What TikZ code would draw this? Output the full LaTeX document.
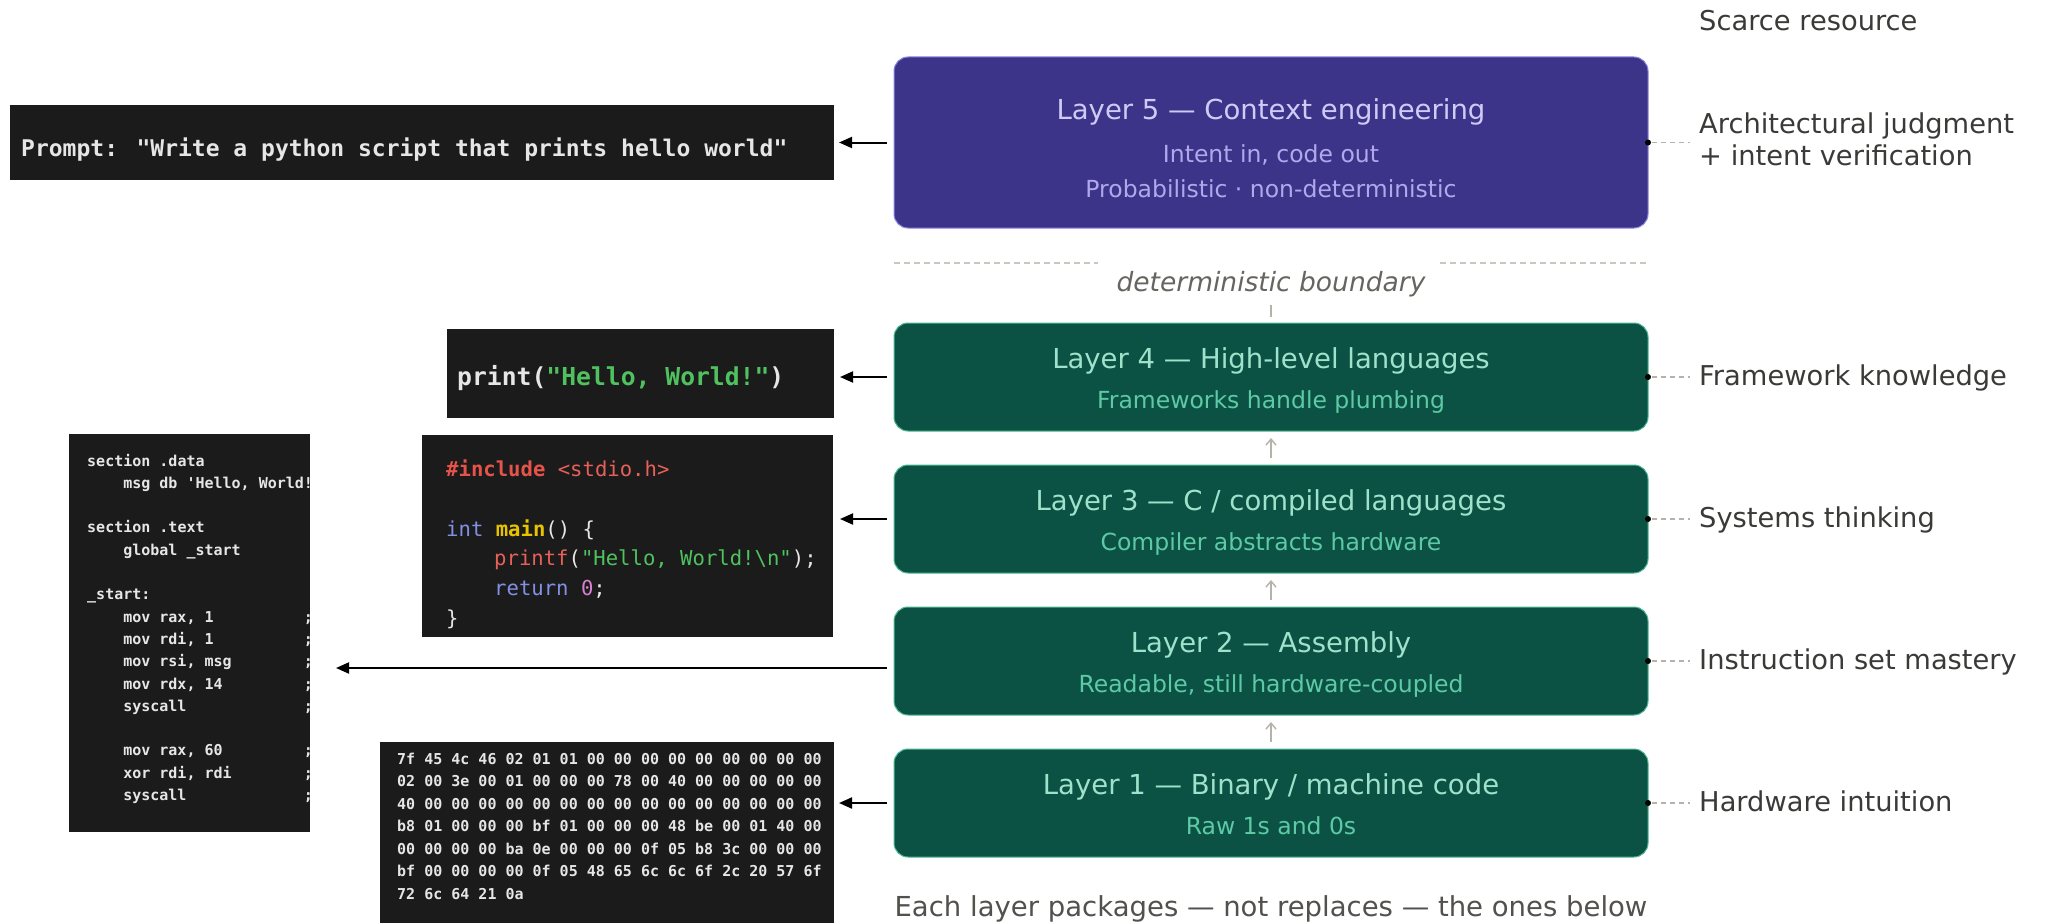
\documentclass[tikz,border=0pt]{standalone}
\usepackage{fontspec}
\setmainfont{DejaVu Sans}
\newfontfamily\codefont{DejaVu Sans Mono}
\usetikzlibrary{arrows.meta}
\definecolor{lgreen}{HTML}{0B5244}
\definecolor{lgreenedge}{HTML}{4FB894}
\definecolor{lpurple}{HTML}{3C3489}
\definecolor{lpurpleedge}{HTML}{8F88E0}
\definecolor{gtitle}{HTML}{9FE1CB}
\definecolor{gsub}{HTML}{5DCAA5}
\definecolor{ptitle}{HTML}{CECBF6}
\definecolor{psub}{HTML}{AFA9EC}
\definecolor{labelcol}{HTML}{3A3A38}
\definecolor{boundcol}{HTML}{66655F}
\definecolor{bottomcol}{HTML}{52514D}
\definecolor{conngray}{HTML}{B4B2A9}
\definecolor{arrowgray}{HTML}{B4B2A9}
\definecolor{dashgray}{HTML}{C9C7C0}
\definecolor{codebg}{HTML}{1B1B1B}
\definecolor{codewhite}{HTML}{E6E6E6}
\definecolor{cgreen}{HTML}{4FC25F}
\definecolor{cred}{HTML}{E5534B}
\definecolor{ccoral}{HTML}{E8605A}
\definecolor{cblue}{HTML}{8290E6}
\definecolor{cyellow}{HTML}{E8C300}
\definecolor{cpink}{HTML}{D77FD0}
\begin{document}
\begin{tikzpicture}[x=1pt,y=-1pt,
  layerbox/.style={rounded corners=14pt, inner sep=0pt, outer sep=0pt, minimum width=754pt, line width=1pt},
  greenbox/.style={layerbox, fill=lgreen, draw=lgreenedge, minimum height=108pt},
  purplebox/.style={layerbox, fill=lpurple, draw=lpurpleedge, minimum height=171pt},
  codebox/.style={fill=codebg, inner sep=0pt, outer sep=0pt, anchor=north west},
  titletxt/.style={anchor=base, inner sep=0pt, font=\fontsize{27.5}{33}\selectfont},
  subtxt/.style={anchor=base, inner sep=0pt, font=\fontsize{23.5}{28}\selectfont},
  labeltxt/.style={anchor=base west, inner sep=0pt, text=labelcol, font=\fontsize{27.3}{33}\selectfont},
  smallcode/.style={anchor=base west, inner sep=0pt, text=codewhite, font=\codefont\bfseries\fontsize{15}{18}\selectfont},
  ccode/.style={anchor=base west, inner sep=0pt, text=codewhite, font=\codefont\fontsize{20.6}{24}\selectfont},
  larrow/.style={-{Triangle[length=13pt,width=11pt]}, line width=2pt, draw=black},
  uparrow/.style={-{Straight Barb[length=6pt,width=10pt]}, line width=1.4pt, draw=arrowgray},
  conn/.style={dash pattern=on 5pt off 4pt, line width=1.3pt, draw=conngray},
  bound/.style={dash pattern=on 6pt off 4pt, line width=1.5pt, draw=dashgray}
]
\useasboundingbox (0,0) rectangle (2049,923);
\fill[white] (0,0) rectangle (2049,923);

% ---- layer boxes
\node[purplebox] (L5) at (1271,142.5) {};
\node[greenbox] (L4) at (1271,377) {};
\node[greenbox] (L3) at (1271,519) {};
\node[greenbox] (L2) at (1271,661) {};
\node[greenbox] (L1) at (1271,803) {};

\node[titletxt, text=ptitle] (L5t) at (1271,120) {Layer 5 — Context engineering};
\node[subtxt, text=psub] (L5s1) at (1271,162) {Intent in, code out};
\node[subtxt, text=psub] (L5s2) at (1271,197) {Probabilistic · non-deterministic};

\node[titletxt, text=gtitle] (L4t) at (1271,368) {Layer 4 — High-level languages};
\node[subtxt, text=gsub] (L4s) at (1271,408) {Frameworks handle plumbing};
\node[titletxt, text=gtitle] (L3t) at (1271,510) {Layer 3 — C / compiled languages};
\node[subtxt, text=gsub] (L3s) at (1271,550) {Compiler abstracts hardware};
\node[titletxt, text=gtitle] (L2t) at (1271,652) {Layer 2 — Assembly};
\node[subtxt, text=gsub] (L2s) at (1271,692) {Readable, still hardware-coupled};
\node[titletxt, text=gtitle] (L1t) at (1271,794) {Layer 1 — Binary / machine code};
\node[subtxt, text=gsub] (L1s) at (1271,834) {Raw 1s and 0s};

% ---- up arrows between layers
\draw[uparrow] ([yshift=7pt]L1.north) -- ([yshift=-7pt]L2.south);
\draw[uparrow] ([yshift=7pt]L2.north) -- ([yshift=-7pt]L3.south);
\draw[uparrow] ([yshift=7pt]L3.north) -- ([yshift=-7pt]L4.south);

% ---- deterministic boundary
\coordinate (bl1) at (894,263);
\coordinate (bl2) at (1098,263);
\coordinate (br1) at (1440,263);
\coordinate (br2) at (1648,263);
\draw[bound] (bl1) -- (bl2);
\draw[bound] (br1) -- (br2);
\node[anchor=base, inner sep=0pt, text=boundcol, font=\itshape\fontsize{26.5}{32}\selectfont] (bound) at (1271,291) {deterministic boundary};
\coordinate (tick) at (1271,305);
\draw[line width=1.4pt, draw=arrowgray] ([yshift=6pt]L4.north) -- (tick);

\node[anchor=base, inner sep=0pt, text=bottomcol, font=\fontsize{27.5}{33}\selectfont] (bottom) at (1271,916) {Each layer packages — not replaces — the ones below};

% ---- right labels
\node[labeltxt] (scarce) at (1699,31) {Scarce resource};
\node[labeltxt] (R5a) at (1699,133) {Architectural judgment};
\node[labeltxt] (R5b) at (1699,165) {+ intent verification};
\node[labeltxt] (R4) at (1699,385) {Framework knowledge};
\node[labeltxt] (R3) at (1699,527) {Systems thinking};
\node[labeltxt] (R2) at (1699,669) {Instruction set mastery};
\node[labeltxt] (R1) at (1699,811) {Hardware intuition};

\foreach \b/\r in {L5/R5a, L4/R4, L3/R3, L2/R2, L1/R1}{
  \draw[conn] ([xshift=4pt]\b.east) -- ([xshift=-9pt]\b.east -| \r.west);
  \fill[black] (\b.east) circle (3pt);
}

% ---- code boxes
\node[codebox, minimum width=824pt, minimum height=75pt] (prompt) at (10,105) {};
\node[anchor=base west, inner sep=0pt, text=codewhite, font=\codefont\bfseries\fontsize{23}{28}\selectfont] (promptt) at (21,156) {Prompt: "Write a python script that prints hello world"};

\node[codebox, minimum width=387pt, minimum height=89pt] (pybox) at (447,329) {};
\node[anchor=base west, inner sep=0pt, text=codewhite, font=\codefont\bfseries\fontsize{24.7}{30}\selectfont] (pyt) at (457,385) {print({\color{cgreen}"Hello, World!"})};

\node[codebox, minimum width=411pt, minimum height=202pt] (cbox) at (422,435) {};
\node[ccode] (c1) at (446,476) {{\color{cred}\bfseries\#include} {\color{ccoral}<stdio.h>}};
\node[ccode] (c2) at (446,536) {{\color{cblue}int} {\color{cyellow}\bfseries main}() \{};
\node[ccode] (c3) at (494,565) {{\color{ccoral}printf}({\color{cgreen}"Hello, World!\textbackslash n"});};
\node[ccode] (c4) at (494,595) {{\color{cblue}return} {\color{cpink}0};};
\node[ccode] (c5) at (446,625) {\}};

\node[codebox, minimum width=241pt, minimum height=398pt] (asm) at (69,434) {};
\begin{scope}
  \clip (asm.north west) rectangle (asm.south east);
  \node[smallcode] (a1) at (87,466) {section .data};
  \node[smallcode] (a2) at (123.1,488.3) {msg db \textquotesingle Hello, World!};
  \node[smallcode] (a3) at (87,532.9) {section .text};
  \node[smallcode] (a4) at (123.1,555.2) {global \_start};
  \node[smallcode] (a5) at (87,599.8) {\_start:};
  \node[smallcode] (a6) at (123.1,622.1) {mov rax, 1};
  \node[smallcode] (a7) at (123.1,644.4) {mov rdi, 1};
  \node[smallcode] (a8) at (123.1,666.7) {mov rsi, msg};
  \node[smallcode] (a9) at (123.1,689.0) {mov rdx, 14};
  \node[smallcode] (a10) at (123.1,711.3) {syscall};
  \node[smallcode] (a11) at (123.1,755.9) {mov rax, 60};
  \node[smallcode] (a12) at (123.1,778.2) {xor rdi, rdi};
  \node[smallcode] (a13) at (123.1,800.5) {syscall};
  \foreach \yy [count=\k] in {622.1,644.4,666.7,689.0,711.3,755.9,778.2,800.5}
    \node[smallcode] (semi\k) at (303.7,\yy) {;};
\end{scope}

\node[codebox, minimum width=454pt, minimum height=181pt] (hex) at (380,742) {};
\node[smallcode] (h1) at (397,764) {7f 45 4c 46 02 01 01 00 00 00 00 00 00 00 00 00};
\node[smallcode] (h2) at (397,786.5) {02 00 3e 00 01 00 00 00 78 00 40 00 00 00 00 00};
\node[smallcode] (h3) at (397,809) {40 00 00 00 00 00 00 00 00 00 00 00 00 00 00 00};
\node[smallcode] (h4) at (397,831.5) {b8 01 00 00 00 bf 01 00 00 00 48 be 00 01 40 00};
\node[smallcode] (h5) at (397,854) {00 00 00 00 ba 0e 00 00 00 0f 05 b8 3c 00 00 00};
\node[smallcode] (h6) at (397,876.5) {bf 00 00 00 00 0f 05 48 65 6c 6c 6f 2c 20 57 6f};
\node[smallcode] (h7) at (397,899) {72 6c 64 21 0a};

% ---- left arrows
\draw[larrow] ([xshift=-7pt]L5.west) -- ([xshift=5pt]L5.west -| prompt.east);
\draw[larrow] ([xshift=-7pt]L4.west) -- ([xshift=6pt]L4.west -| pybox.east);
\draw[larrow] ([xshift=-7pt]L3.west) -- ([xshift=7pt]L3.west -| cbox.east);
\draw[larrow] ([xshift=-7pt,yshift=-7pt]L2.west) -- ([xshift=26pt,yshift=-7pt]L2.west -| asm.east);
\draw[larrow] ([xshift=-7pt]L1.west) -- ([xshift=5pt]L1.west -| hex.east);
\end{tikzpicture}
\end{document}
